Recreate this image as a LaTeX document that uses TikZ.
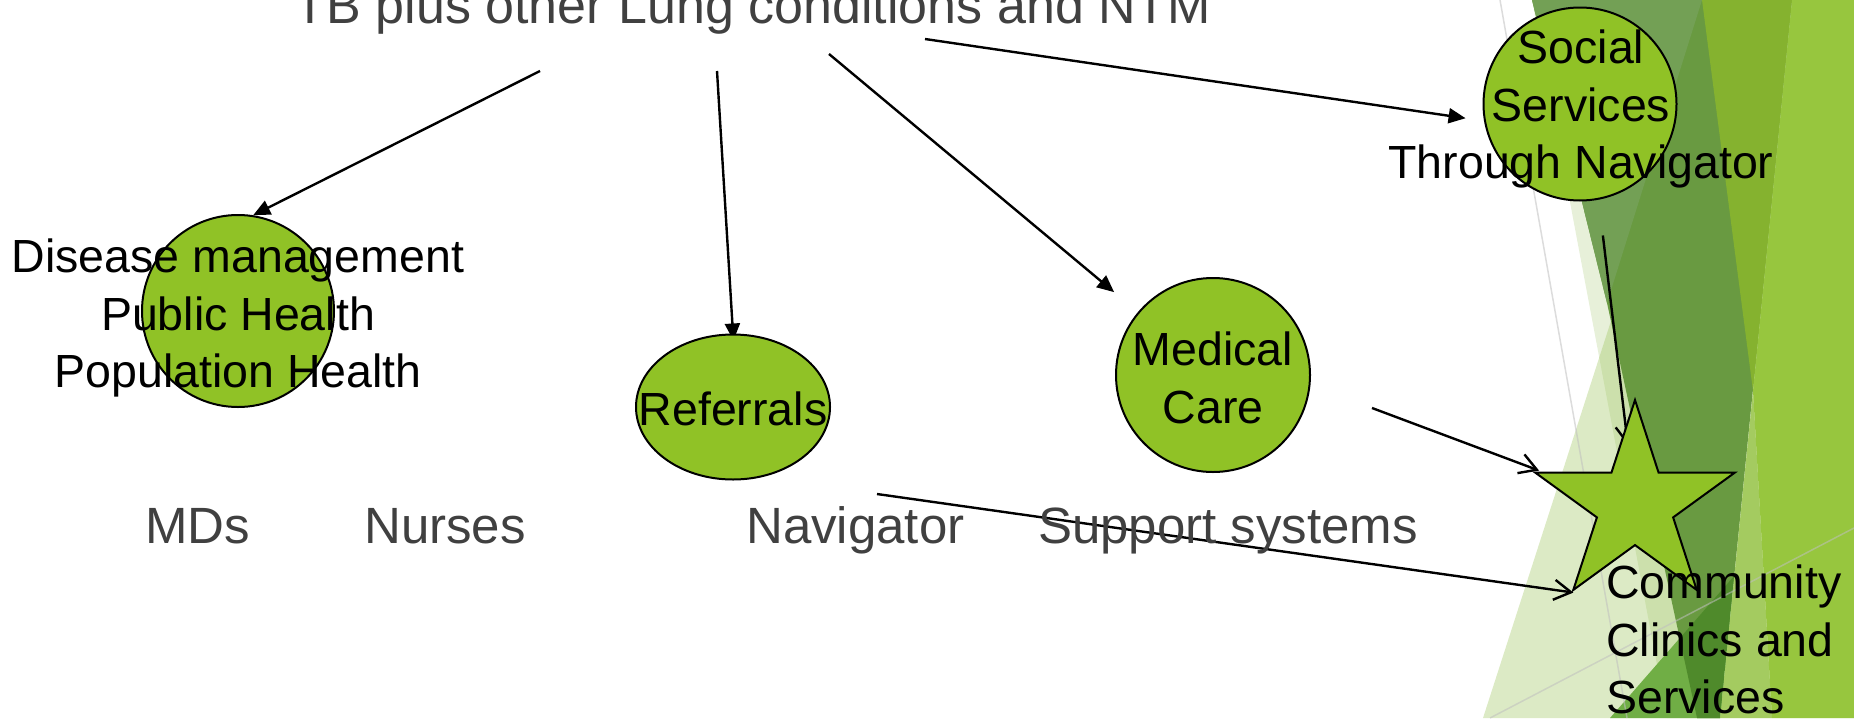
\documentclass[tikz,border=0pt]{standalone}
\usepackage{fontspec}
\setmainfont{Liberation Sans}
\usetikzlibrary{shapes.geometric,arrows.meta}
\definecolor{accent}{HTML}{90C226}
\definecolor{txtgray}{HTML}{404040}
\definecolor{palestrip}{HTML}{E7F0D9}
\definecolor{lighttri}{HTML}{9CC45A}
\definecolor{darkgreen}{HTML}{699A41}
\definecolor{darklight}{HTML}{73A055}
\definecolor{olive}{HTML}{85B22F}
\definecolor{gapgreen}{HTML}{A4CB60}
\definecolor{brightgreen}{HTML}{97C63E}
\definecolor{midgreen}{HTML}{70AE45}
\definecolor{deepgreen}{HTML}{4F8A2B}
\pgfdeclarelayer{deco}
\pgfdeclarelayer{links}
\pgfsetlayers{deco,links,main}
\begin{document}
\begin{tikzpicture}[x=1pt,y=-1pt,
  bubble/.style={circle, draw=black, line width=2pt, fill=accent, inner sep=0pt},
  starbox/.style={star, star points=5, star point ratio=2.62, draw=black, line width=2pt, fill=accent, inner sep=0pt},
  ntext/.style={inner sep=0pt, font=\fontsize{46.5}{57.5}\selectfont, text=black, align=center},
  lbltext/.style={inner sep=0pt, font=\fontsize{51}{61}\selectfont, text=txtgray},
  titletext/.style={inner sep=0pt, font=\fontsize{52}{62}\selectfont, text=txtgray},
  link/.style={line width=2.4pt, draw=black},
  filledtip/.style={-{Triangle[length=17pt,width=15pt]}},
  opentip/.style={-{Straight Barb[length=17pt,width=20pt]}},
  thinline/.style={draw=gray!50, line width=1.5pt, opacity=0.55}
]
\useasboundingbox (0,0) rectangle (1854,718);

% background decoration
\begin{pgfonlayer}{deco}
  \fill[palestrip] (1532,0) -- (1667,718) -- (1854,718) -- (1854,0) -- cycle;
  \fill[lighttri, opacity=0.354] (1483,718) -- (1650,200) -- (1720,718) -- cycle;
  \fill[darkgreen] (1532,0) -- (1792,0) -- (1720,718) -- (1697,718) -- (1607,303) -- cycle;
  \fill[darklight] (1532,0) -- (1702,0) -- (1607,303) -- cycle;
  \fill[olive] (1702,0) -- (1792,0) -- (1753,391) -- cycle;
  \fill[gapgreen] (1753,391) -- (1772,718) -- (1720,718) -- cycle;
  \fill[brightgreen] (1792,0) -- (1854,0) -- (1854,718) -- (1772,718) -- (1753,391) -- cycle;
  \fill[midgreen] (1610,718) -- (1734,576) -- (1720,718) -- cycle;
  \begin{scope}
    \clip (1532,0) -- (1792,0) -- (1720,718) -- (1697,718) -- (1607,303) -- cycle;
    \fill[deepgreen] (1610,718) -- (1734,576) -- (1720,718) -- cycle;
  \end{scope}
  \draw[thinline] (1500,0) -- (1627,718);
  \draw[thinline] (1490,718) -- (1854,528);
\end{pgfonlayer}

% shapes
\node[bubble, minimum size=192pt] (dm) at (238,311) {};
\node[bubble, ellipse, minimum width=194pt, minimum height=145pt] (ref) at (733,407) {};
\node[bubble, minimum size=194pt] (med) at (1213,375) {};
\node[bubble, minimum size=193pt] (soc) at (1580,104) {};
\node[starbox, minimum size=210pt] (star) at (1635,505) {};

% texts
\node[titletext, anchor=base] (ttl) at (753,23) {TB plus other Lung conditions and NTM};
\node[ntext, anchor=north] (dmt) at (238,238.7) {Disease management\\Public Health\\Population Health};
\node[ntext, anchor=base] (reft) at (733,425) {Referrals};
\node[ntext, anchor=north] (medt) at (1213,331.7) {Medical\\Care};
\node[ntext, anchor=north] (soct) at (1581,30) {Social\\Services\\Through Navigator};
\node[ntext, anchor=north west, align=left] (comt) at (1606,564.7) {Community\\Clinics and\\Services};
\node[lbltext, anchor=base west] (mds) at (145,543) {MDs};
\node[lbltext, anchor=base west] (nur) at (364,543) {Nurses};
\node[lbltext, anchor=base west] (nav) at (746,543) {Navigator};
\node[lbltext, anchor=base west] (sup) at (1038,543) {Support systems};

% free ends
\coordinate (s1) at (540,71);
\coordinate (s2) at (717,71);
\coordinate (s3) at (829,54);
\coordinate (s4) at (925,39);
\coordinate (s6) at (1372,408);
\coordinate (s7) at (877,494);

% connectors
\begin{pgfonlayer}{links}
  \draw[link, filledtip] (s1) -- (dm.81);
  \draw[link, filledtip, shorten >=-7pt] (s2) -- (ref.north);
  \draw[link, filledtip, shorten >=31pt] (s3) -- (med.140);
  \draw[link, filledtip, shorten >=18.6pt] (s4) -- (soc.190);
  \draw[link, opentip, shorten <=36pt, shorten >=60pt] (soc.-79.4) -- (star.center);
  \draw[link, opentip] (s6) -- ([shift={(7,-1)}]star.outer point 2);
  \draw[link, opentip] (s7) -- ([shift={(2,0)}]star.outer point 3);
\end{pgfonlayer}
\end{tikzpicture}
\end{document}
